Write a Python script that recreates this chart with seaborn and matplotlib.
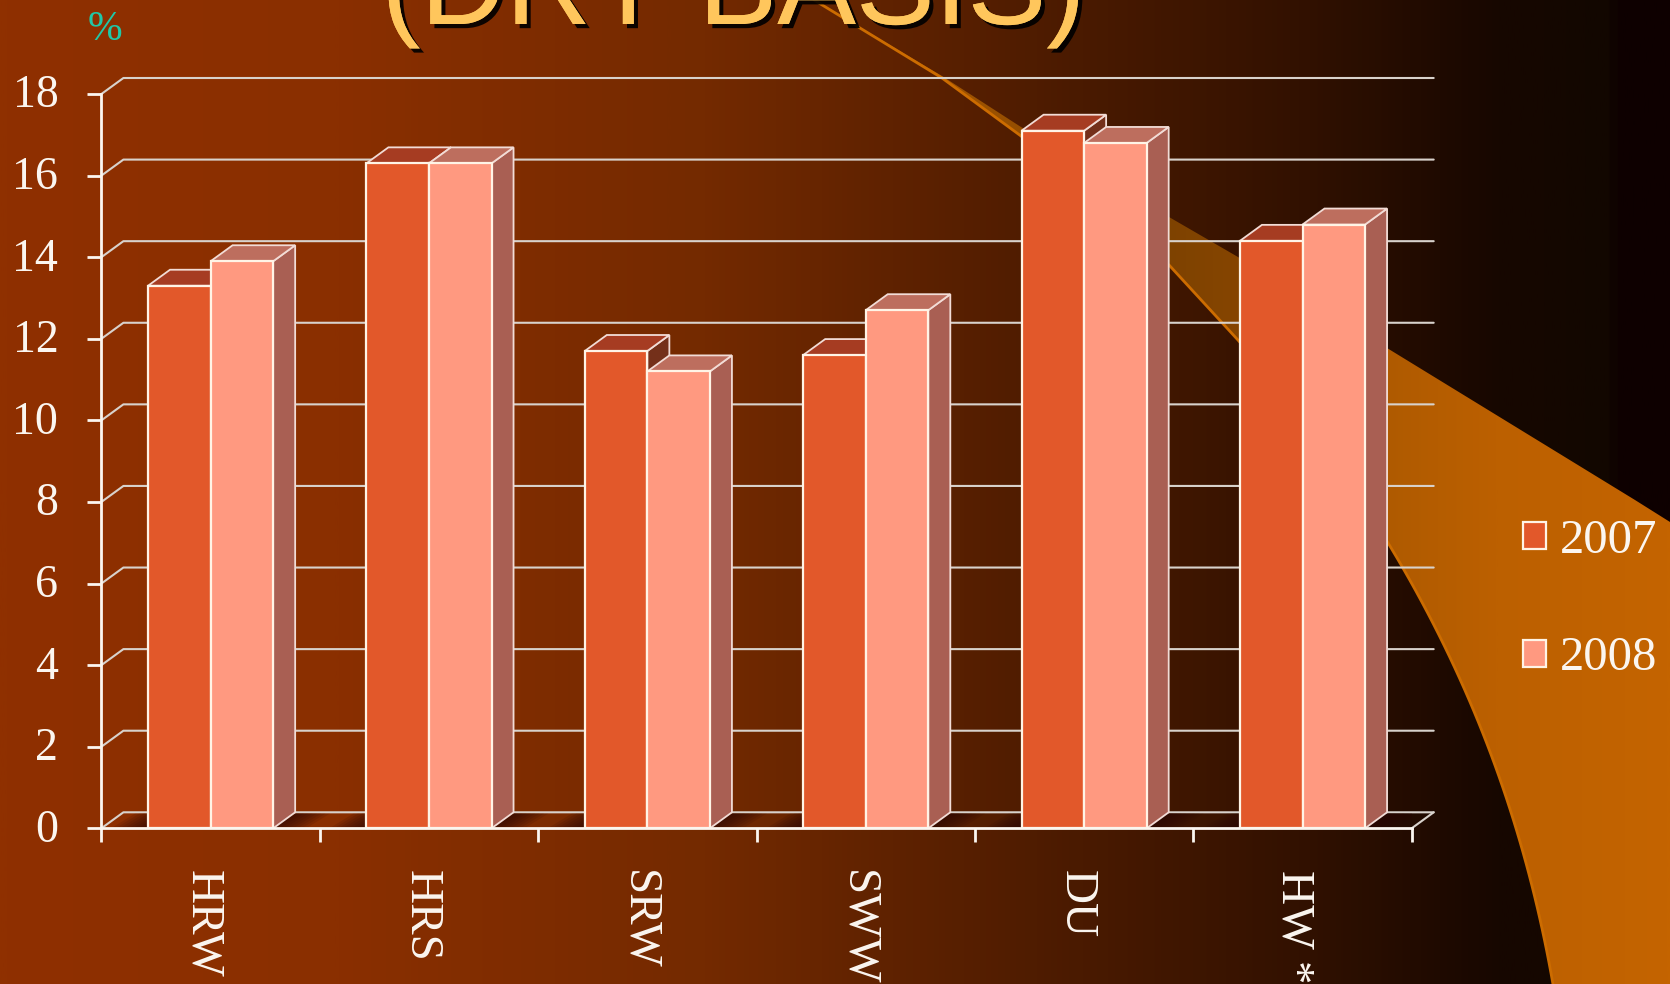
"""Protein content by wheat class, 2007 vs 2008 (slide chart with 3D-look bars)."""

from __future__ import annotations

import matplotlib

matplotlib.use("Agg")
import matplotlib.patheffects as pe
import matplotlib.pyplot as plt
import numpy as np
import pandas as pd
import seaborn as sns
from matplotlib.colors import LinearSegmentedColormap
from matplotlib.patches import PathPatch, Polygon
from matplotlib.path import Path
from matplotlib.transforms import ScaledTranslation

CLASSES = ["HRW", "HRS", "SRW", "SWW", "DU", "HW *"]
VALUES_2007 = [13.3, 16.3, 11.7, 11.6, 17.1, 14.4]
VALUES_2008 = [13.9, 16.3, 11.2, 12.7, 16.8, 14.8]
Y_TICKS = [0, 2, 4, 6, 8, 10, 12, 14, 16, 18]

W, H = 1670, 984
AX_LEFT, AX_RIGHT, AX_TOP, AX_BOTTOM = 101.4, 1411.7, 94.0, 828.3
DEPTH_X, DEPTH_Y = 22.0, 16.0

LINE = "#d8d2cc"
WHITE = "#fbf6f0"
FACE = {"2007": "#e2582a", "2008": "#ff9980"}
TOP = {"2007": "#a63c22", "2008": "#bd6e5e"}
SIDE = {"2007": "#74301a", "2008": "#a95f53"}

sns.set_style("white")
plt.rcParams["font.family"] = ["Liberation Serif", "DejaVu Serif"]


def draw_background(fig: plt.Figure) -> None:
    bg = fig.add_axes([0, 0, 1, 1], zorder=0)
    bg.set_xlim(0, W)
    bg.set_ylim(H, 0)
    bg.axis("off")
    cmap = LinearSegmentedColormap.from_list(
        "slide",
        [
            (0.0, "#8f3000"),
            (0.2, "#8a2f00"),
            (0.42, "#742a00"),
            (0.62, "#4f1c00"),
            (0.78, "#321100"),
            (0.9, "#170700"),
            (0.965, "#120700"),
            (0.972, "#0e0000"),
            (1.0, "#0e0000"),
        ],
    )
    bg.imshow(np.linspace(0, 1, 800)[None, :], cmap=cmap, extent=(0, W, H, 0), aspect="auto")

    # the orange swoosh behind the plot
    upper = [(814, 0), (942, 76), (1021, 127), (1169, 217), (1238, 257), (1387, 348), (1635, 500), (1670, 522)]
    curve_x = [1238, 1387, 1457, 1493, 1520, 1537, 1553]
    curve_y = [340, 542, 670, 763, 840, 907, 984]
    fit = np.polyfit(curve_y, curve_x, 3)
    ys = np.linspace(984, 340, 60)
    lower = list(zip(np.polyval(fit, ys), ys)) + [(1169, 265), (1021, 136), (942, 78), (814, 0)]
    verts = upper + [(1670, 984)] + lower
    path = Path(verts)
    swoosh_cmap = LinearSegmentedColormap.from_list(
        "swoosh",
        [(0.0, "#b86000"), (0.4, "#7d4200"), (0.5, "#864500"), (0.66, "#ae5a00"), (0.8, "#bc6000"), (1.0, "#c46400")],
    )
    img = bg.imshow(np.linspace(0, 1, 400)[None, :], cmap=swoosh_cmap, extent=(814, W, H, 0), aspect="auto")
    img.set_clip_path(PathPatch(path, transform=bg.transData))
    bg.plot(*zip(*lower), color="#cc6c00", lw=2, solid_capstyle="round")
    bg.set_xlim(0, W)
    bg.set_ylim(H, 0)

    bg.text(
        733, 24, "(DRY BASIS)", family="Liberation Sans", fontsize=85, color="#ffc65c",
        ha="center", va="baseline", zorder=5,
        path_effects=[pe.withSimplePatchShadow(offset=(3, -3), shadow_rgbFace="black", alpha=0.9), pe.Normal()],
    )
    bg.text(88, 40, "%", fontsize=30, color="#20c8a8", ha="left", va="baseline")


def draw_depth(ax: plt.Axes, dx: float, dy: float) -> None:
    """Side and top faces, worked out from the bars seaborn has drawn."""
    z = 3.0
    bars = []
    for container, year in zip(ax.containers, ["2007", "2008"]):
        bars += [(b, year) for b in container]
    bars.sort(key=lambda item: item[0].get_x())
    for bar, year in bars:
        x0, x1 = bar.get_x(), bar.get_x() + bar.get_width()
        y = bar.get_height()
        side = [(x1, 0), (x1 + dx, dy), (x1 + dx, y + dy), (x1, y)]
        top = [(x0, y), (x0 + dx, y + dy), (x1 + dx, y + dy), (x1, y)]
        ax.add_patch(Polygon(side, fc=SIDE[year], ec="#f2dcd6", lw=1.3, zorder=z, clip_on=False))
        ax.add_patch(Polygon(top, fc=TOP[year], ec="#f2dcd6", lw=1.3, zorder=z + 0.1, clip_on=False))
        bar.set_zorder(z + 0.2)
        z += 1


def draw_walls(ax: plt.Axes, dx: float, dy: float) -> None:
    x0, x1 = ax.get_xlim()
    for y in Y_TICKS:
        ax.plot([x0, x0 + dx, x1 + dx], [y, y + dy, y + dy], color=LINE, lw=1.5, zorder=1, clip_on=False)
    ax.plot([x1, x1 + dx], [0, dy], color=LINE, lw=1.5, zorder=1, clip_on=False)

    # soft shadow on the floor on both sides of each group
    for i in range(len(CLASSES)):
        left = ax.containers[0][i].get_x()
        right = ax.containers[1][i].get_x() + ax.containers[1][i].get_width() + dx
        for step in range(8):
            reach = 0.16 * (8 - step) / 8
            for a, b in [(left - reach, left), (right - dx, right - dx + reach)]:
                floor = [(a, 0.03), (b, 0.03), (b + dx, dy - 0.03), (a + dx, dy - 0.03)]
                ax.add_patch(Polygon(floor, fc="#2a0600", ec="none", alpha=0.13, zorder=1.5))


fig = plt.figure(figsize=(W / 100, H / 100), dpi=100)
draw_background(fig)

ax = fig.add_axes(
    [AX_LEFT / W, 1 - AX_BOTTOM / H, (AX_RIGHT - AX_LEFT) / W, (AX_BOTTOM - AX_TOP) / H],
    zorder=2,
)
ax.patch.set_alpha(0)

df = pd.DataFrame(
    {
        "wheat": CLASSES * 2,
        "year": ["2007"] * len(CLASSES) + ["2008"] * len(CLASSES),
        "protein": VALUES_2007 + VALUES_2008,
    }
)
sns.barplot(
    data=df, x="wheat", y="protein", hue="year", palette=FACE, width=0.573, gap=0,
    edgecolor="#fff4e6", linewidth=1.6, saturation=1, errorbar=None, ax=ax,
)

ax.set_xlim(-0.5, 5.5)
ax.set_ylim(0, 18)
ax.set_xlabel("")
ax.set_ylabel("")

px_x = (AX_RIGHT - AX_LEFT) / 6
px_y = (AX_BOTTOM - AX_TOP) / 18
dx, dy = DEPTH_X / px_x, DEPTH_Y / px_y
draw_walls(ax, dx, dy)
draw_depth(ax, dx, dy)

sns.despine(ax=ax, top=True, right=True)
for name in ["left", "bottom"]:
    ax.spines[name].set_color(WHITE)
    ax.spines[name].set_linewidth(2)
    ax.spines[name].set_zorder(30)

ax.set_yticks(Y_TICKS)
ax.tick_params(axis="y", length=10, width=2, color=WHITE, pad=21, labelsize=33, labelcolor=WHITE, left=True)
ax.set_xticks(np.arange(7) - 0.5, minor=True)
ax.tick_params(axis="x", which="minor", length=10, width=2, color=WHITE, bottom=True)
ax.tick_params(axis="x", which="major", length=0, pad=30, labelsize=34, labelcolor=WHITE, labelrotation=-90)
for lab in ax.get_xticklabels():
    lab.set_va("top")
    lab.set_ha("center")
    lab.set_transform(lab.get_transform() + ScaledTranslation(-6 / 72, 0, fig.dpi_scale_trans))
for lab in ax.get_yticklabels():
    lab.set_transform(lab.get_transform() + ScaledTranslation(0, 2 / 72, fig.dpi_scale_trans))

leg = ax.legend(
    title=None, frameon=False, fontsize=35, labelcolor=WHITE, loc="center left",
    bbox_to_anchor=((1523 - AX_LEFT) / (AX_RIGHT - AX_LEFT), (AX_BOTTOM - 599.5) / (AX_BOTTOM - AX_TOP)),
    borderpad=0, borderaxespad=0, handlelength=0.48, handleheight=0.48, handletextpad=0.27, labelspacing=1.52,
)

fig.savefig("out.png", dpi=100)
